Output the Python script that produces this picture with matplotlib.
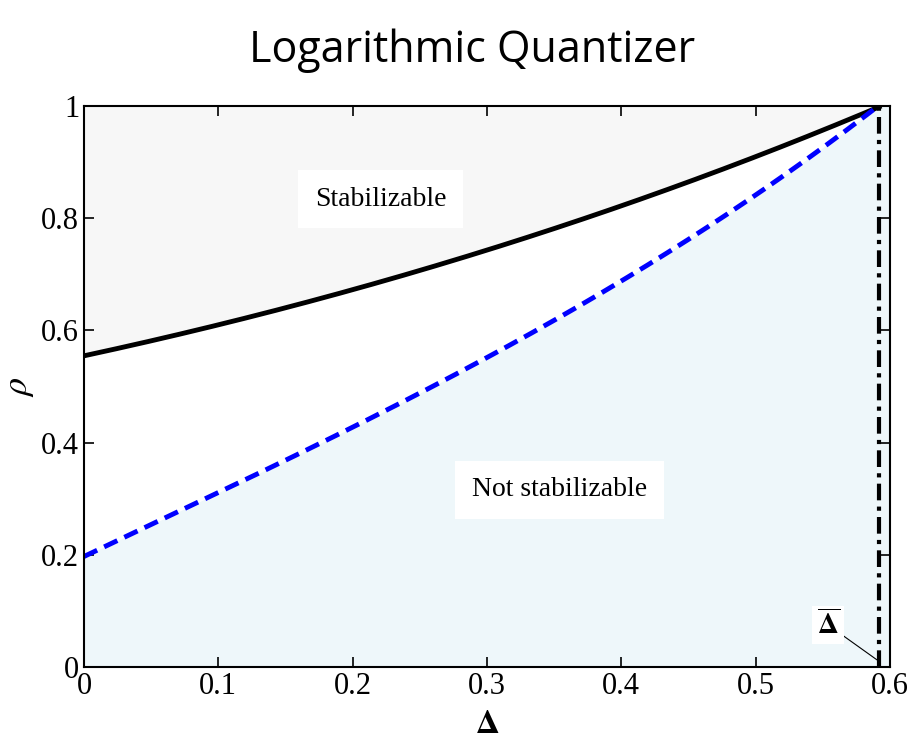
import matplotlib
matplotlib.use('Agg')
import matplotlib.pyplot as plt
import numpy as np

plt.rcParams['font.family'] = ['Liberation Serif']
plt.rcParams['mathtext.fontset'] = 'stix'

# values
delta_bar = 0.592
delta_pts = [0.0, 0.1, 0.2, 0.3, 0.4, 0.5, 0.592]
rho_stab = [0.555, 0.61, 0.67, 0.745, 0.825, 0.905, 1.0]
rho_not = [0.195, 0.316, 0.425, 0.548, 0.69, 0.843, 1.0]
xtick_vals = [0, 0.1, 0.2, 0.3, 0.4, 0.5, 0.6]
xtick_labels = ['0', '0.1', '0.2', '0.3', '0.4', '0.5', '0.6']
ytick_vals = [0, 0.2, 0.4, 0.6, 0.8, 1]
ytick_labels = ['0', '0.2', '0.4', '0.6', '0.8', '1']

# smooth curves through the read points
xs = np.linspace(0, delta_bar, 200)
c1 = np.polyfit(delta_pts, rho_stab, 3)
c2 = np.polyfit(delta_pts, rho_not, 3)
y1 = np.polyval(c1, xs)
y2 = np.polyval(c2, xs)

fig = plt.figure(figsize=(9.08, 7.49), dpi=100)
ax = fig.add_axes([0.0925, 0.1095, 0.8875, 0.749])

ax.fill_between(xs, y1, 1, color='#f7f7f7', lw=0)
ax.fill_between(xs, 0, y2, color='#eef7fa', lw=0)
ax.fill_between([delta_bar, 0.6], 0, 1, color='#eef7fa', lw=0)

ax.plot(xs, y1, color='black', lw=3.5)
ax.plot(xs, y2, color='blue', lw=3.5, ls=(0, (3, 1.6)))
ax.plot([delta_bar, delta_bar], [0, 1], color='black', lw=3,
        ls=(0, (4, 1.5, 1, 1.5)))

ax.text(0.221, 0.834, 'Stabilizable', fontsize=20, ha='center', va='center',
        bbox=dict(facecolor='white', edgecolor='none', pad=12))
ax.text(0.354, 0.316, 'Not stabilizable', fontsize=20, ha='center',
        va='center', bbox=dict(facecolor='white', edgecolor='none', pad=12))
ax.annotate(r'$\mathbf{\overline{\Delta}}$', xy=(delta_bar, 0.01),
            xytext=(0.554, 0.075), fontsize=21, ha='center', va='center',
            bbox=dict(facecolor='white', edgecolor='none', pad=3),
            arrowprops=dict(arrowstyle='-', color='black', lw=0.8,
                            shrinkA=0, shrinkB=0))

ax.set_xlim(0, 0.6)
ax.set_ylim(0, 1)
ax.set_xticks(xtick_vals, labels=xtick_labels)
ax.set_yticks(ytick_vals, labels=ytick_labels)
ax.tick_params(direction='in', labelsize=22, length=7, width=1.2,
               top=True, right=True)
for s in ax.spines.values():
    s.set_linewidth(1.5)

ax.set_xlabel(r'$\mathbf{\Delta}$', fontsize=24, labelpad=6)
ax.set_ylabel(r'$\rho$', fontsize=26, labelpad=4)

fig.text(0.52, 0.932, 'Logarithmic Quantizer', fontsize=31, ha='center',
         va='center', family=['Open Sans'])

fig.savefig('out.png', dpi=100)
